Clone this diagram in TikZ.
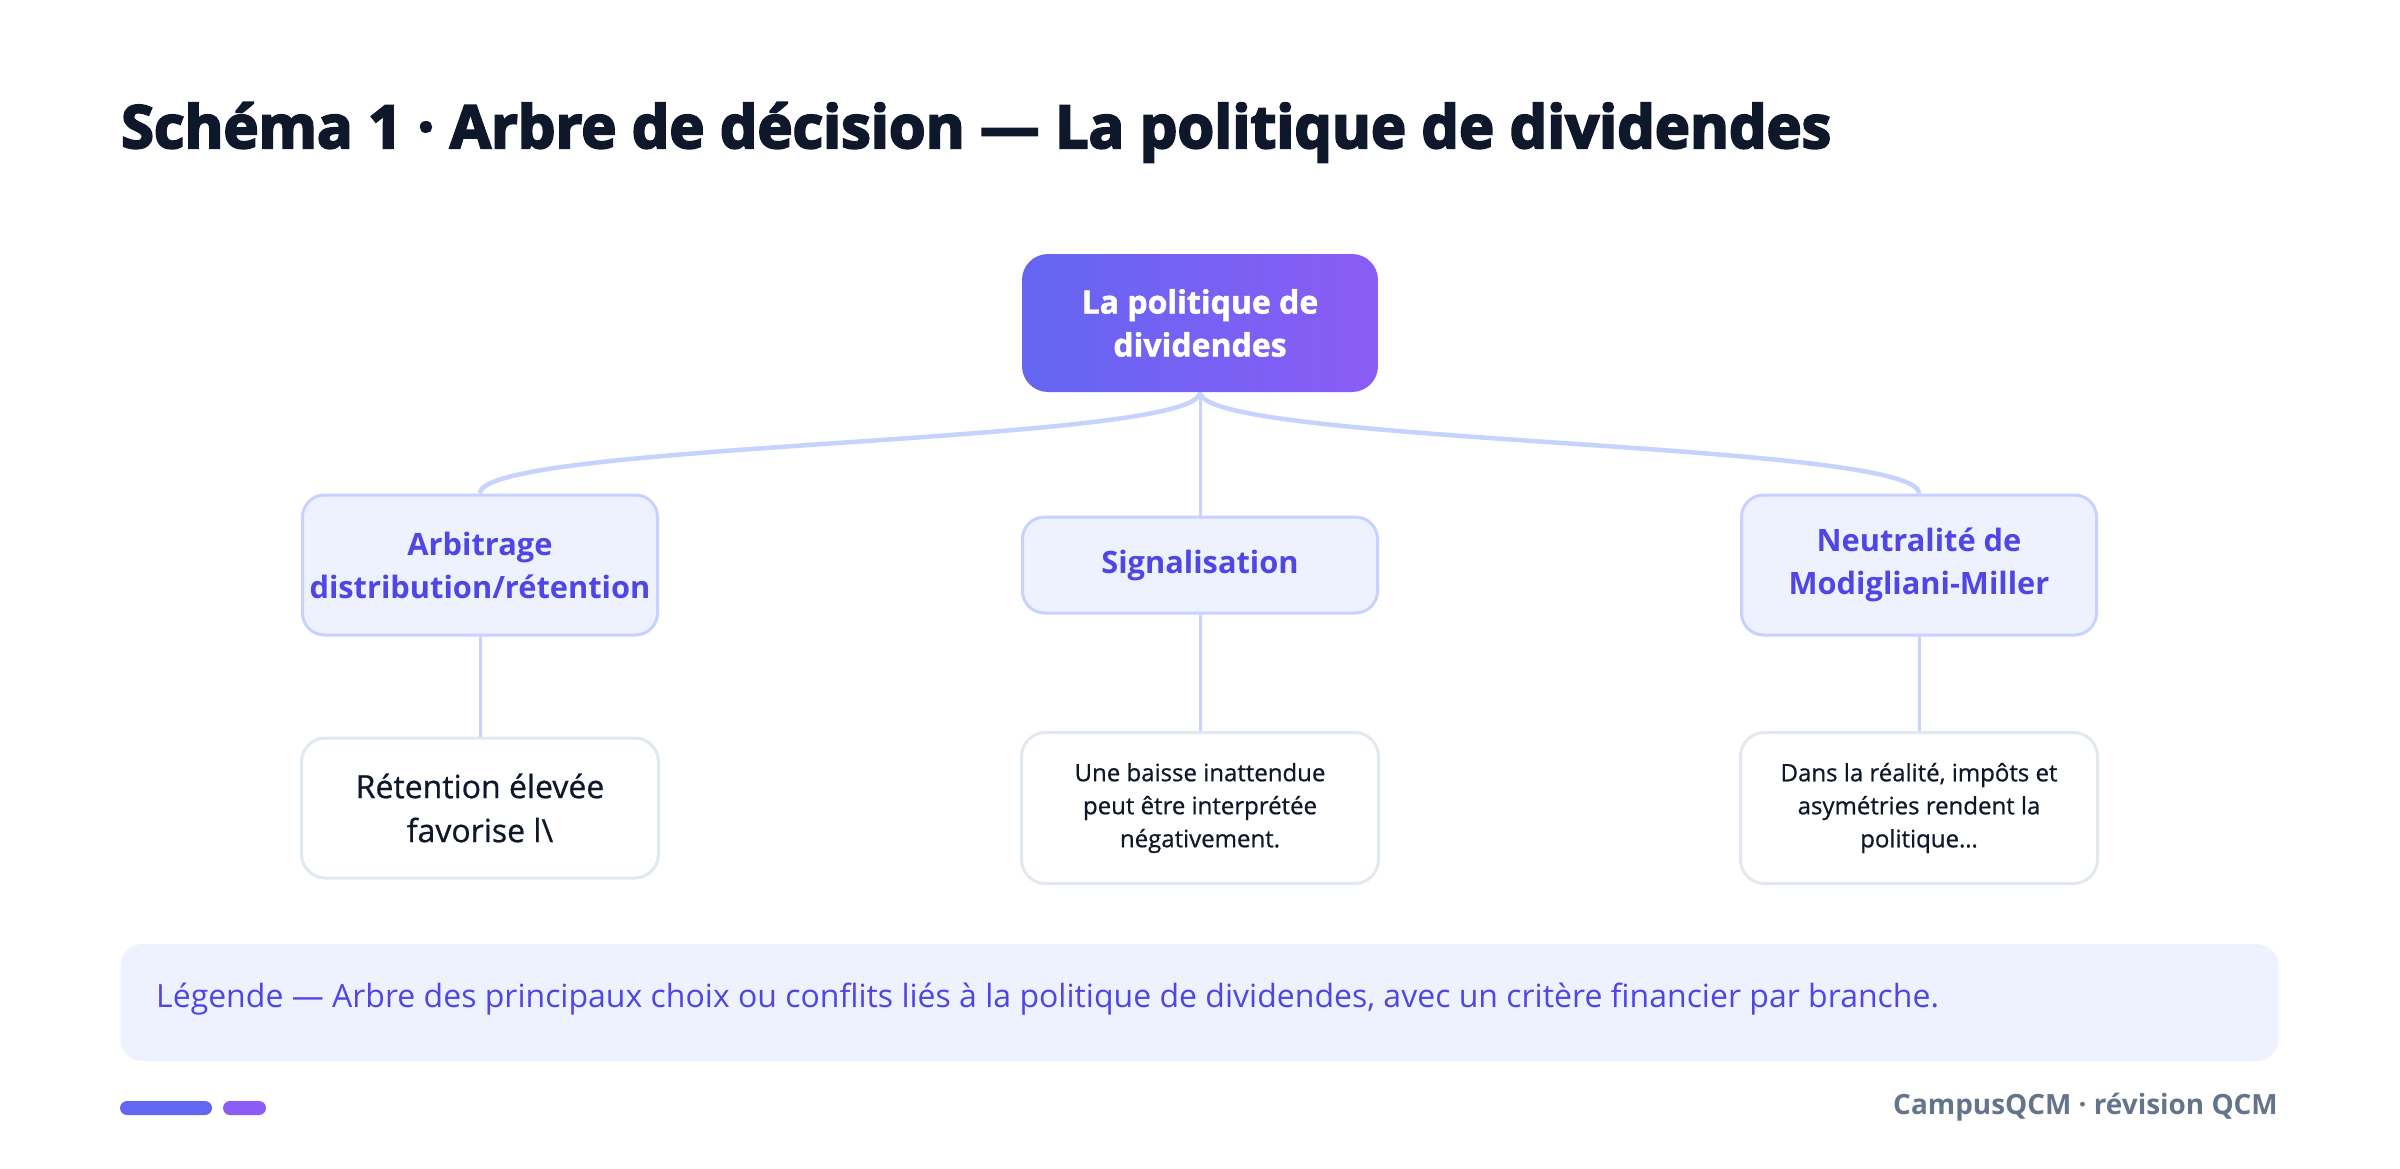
\documentclass[tikz,border=0pt]{standalone}
\usepackage{fontspec}
\setmainfont{Open Sans}
\newfontfamily\titlefont{Open Sans}[BoldFeatures={FakeBold=3.5}]
\newfontfamily\rootfont{Open Sans}[BoldFeatures={FakeBold=1.5}]
\newfontfamily\medfont{Open Sans}[FakeBold=0.7]
\definecolor{navy}{HTML}{0F172A}
\definecolor{indA}{HTML}{6366F1}
\definecolor{vioA}{HTML}{8B5CF6}
\definecolor{indT}{HTML}{4F46E5}
\definecolor{paleF}{HTML}{EEF2FF}
\definecolor{paleB}{HTML}{C7D2FE}
\definecolor{grayB}{HTML}{E2E8F0}
\definecolor{slateT}{HTML}{64748B}
\tikzset{
  rootbox/.style={rectangle, rounded corners=26pt, left color=indA, right color=vioA,
    minimum width=356pt, minimum height=138pt, inner sep=0pt, text=white, align=center,
    font=\rootfont\fontsize{32}{43}\selectfont\bfseries},
  midbox/.style={rectangle, rounded corners=22pt, fill=paleF, draw=paleB, line width=3pt,
    minimum width=355pt, inner sep=0pt, text=indT, align=center,
    font=\fontsize{30.8}{43}\selectfont\bfseries},
  leafbox/.style={rectangle, rounded corners=24pt, fill=white, draw=grayB, line width=3pt,
    minimum width=357pt, inner sep=0pt, text=navy, align=center},
  leafbig/.style={leafbox, font=\medfont\fontsize{32}{44}\selectfont},
  leafsmall/.style={leafbox, font=\medfont\fontsize{24}{33}\selectfont},
  curvelink/.style={draw=paleB, line width=4.5pt},
  straightlink/.style={draw=paleB, line width=3pt},
}
\begin{document}
\begin{tikzpicture}[x=1pt,y=-1pt]
\useasboundingbox[fill=white] (0,0) rectangle (2400,1169);
% title
\node[anchor=base west, inner sep=0pt, text=navy, font=\titlefont\fontsize{59.4}{70}\selectfont\bfseries] (title) at (121,148) {Schéma 1 · Arbre de décision — La politique de dividendes};
% nodes
\node[rootbox] (root) at (1200,323) {La politique de\\dividendes};
\node[midbox, minimum height=140pt] (arb) at (480,565) {Arbitrage\\distribution/rétention};
\node[midbox, minimum height=96pt] (sig) at (1200,565) {Signalisation};
\node[midbox, minimum height=140pt] (neu) at (1919,565) {Neutralité de\\Modigliani-Miller};
\node[leafbig, minimum height=140pt] (ret) at (480,808) {Rétention élevée\\favorise l\textbackslash};
\node[leafsmall, minimum height=151pt] (bai) at (1200,808) {Une baisse inattendue\\peut être interprétée\\négativement.};
\node[leafsmall, minimum height=151pt] (dan) at (1919,808) {Dans la réalité, impôts et\\asymétries rendent la\\politique\ldots};
% links
\draw[curvelink] (root.south) .. controls +(0,52) and +(0,-52) .. (arb.north);
\draw[curvelink] (root.south) .. controls +(0,52) and +(0,-52) .. (neu.north);
\draw[straightlink] (root.south) -- (sig.north);
\draw[straightlink] (arb.south) -- (ret.north);
\draw[straightlink] (sig.south) -- (bai.north);
\draw[straightlink] (neu.south) -- (dan.north);
% legend
\node[rectangle, rounded corners=22pt, fill=paleF, minimum width=2158pt, minimum height=117pt, inner sep=0pt] (leg) at (1199.5,1002.5) {};
\node[anchor=west, inner sep=0pt, text=indT, font=\fontsize{32}{38}\selectfont] (legt) at (156,999) {Légende — Arbre des principaux choix ou conflits liés à la politique de dividendes, avec un critère financier par branche.};
% footer
\node[rectangle, rounded corners=7pt, fill=indA, minimum width=92pt, minimum height=14pt, inner sep=0pt] (p1) at (166,1108) {};
\node[rectangle, rounded corners=7pt, fill=vioA, minimum width=43pt, minimum height=14pt, inner sep=0pt] (p2) at (244.5,1108) {};
\node[anchor=east, inner sep=0pt, text=slateT, font=\fontsize{27.9}{32}\selectfont\bfseries] (foot) at (2278,1107) {CampusQCM · révision QCM};
\end{tikzpicture}
\end{document}
